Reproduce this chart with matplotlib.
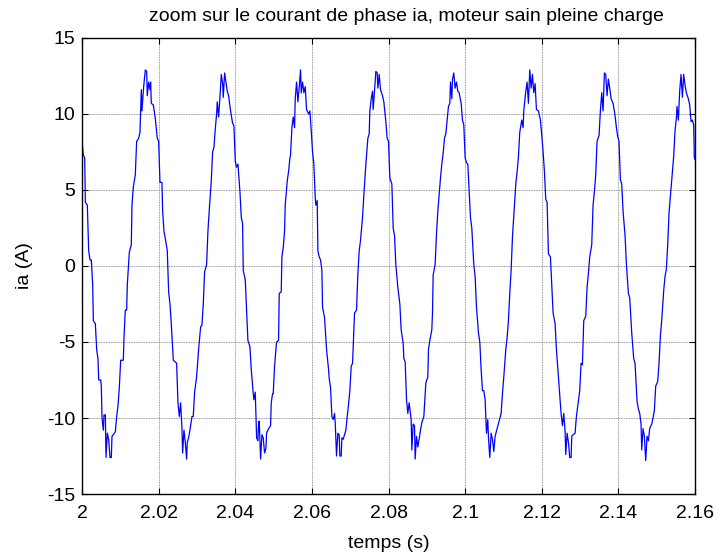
import matplotlib.pyplot as plt
import numpy as np
from matplotlib.ticker import FormatStrFormatter

# courant de phase ia, temps en ms a partir de t = 2 s
t_p1 = [0.00, 0.35, 0.70, 0.87, 1.39, 1.74, 2.09, 2.43, 2.78, 2.96,
        3.48, 3.83, 4.17, 4.35, 4.87, 5.04, 5.22, 5.57, 5.74, 6.09,
        6.26, 6.61, 6.96, 7.30, 7.65, 7.83, 8.17, 8.70, 9.04, 9.39,
        9.74, 10.09, 10.78, 10.96, 11.30, 11.65, 11.83, 12.35, 12.87, 13.04,
        13.39, 13.91, 14.26, 14.78, 15.13, 15.48, 15.65, 16.00, 16.17, 16.52,
        16.87, 17.04, 17.39, 17.74, 17.91, 18.09, 18.61, 19.13, 19.65, 20.00]
ia_p1 = [8.2, 7.3, 7.1, 4.2, 4.0, 1.0, 0.4, 0.4, -1.2, -3.6,
         -3.8, -5.5, -6.1, -7.5, -7.5, -7.9, -10.0, -10.8, -9.8, -9.8,
         -12.6, -11.0, -11.4, -12.6, -12.6, -11.2, -11.1, -10.9, -9.9, -9.2,
         -8.0, -6.2, -6.2, -4.7, -2.9, -2.9, -1.2, 0.9, 1.4, 4.0,
         5.2, 6.0, 8.2, 8.4, 8.8, 11.6, 10.2, 11.5, 12.0, 12.9,
         12.8, 11.2, 12.1, 11.6, 12.1, 10.7, 10.6, 9.7, 8.4, 8.2]

t_p2 = [20.35, 20.87, 21.04, 21.39, 21.74, 22.26, 22.61, 22.96, 23.30, 23.83,
        24.70, 25.04, 25.39, 25.74, 26.09, 26.26, 26.61, 26.96, 27.30, 27.48,
        27.83, 28.17, 28.70, 29.04, 29.39, 29.91, 30.43, 30.96, 31.30, 31.65,
        32.00, 32.52, 32.87, 33.22, 33.74, 34.09, 34.43, 34.78, 35.13, 35.30,
        35.65, 36.00, 36.35, 36.70, 36.87, 37.22, 37.57, 37.91, 38.26, 38.78,
        39.30, 39.65, 40.00]
ia_p2 = [5.5, 5.5, 3.6, 2.3, 1.8, 1.0, -1.7, -2.5, -3.8, -6.2,
         -6.4, -9.0, -9.9, -9.0, -10.7, -12.3, -10.8, -11.6, -12.7, -11.6,
         -11.3, -10.8, -9.9, -9.9, -8.3, -7.3, -5.5, -4.0, -3.9, -2.5,
         -0.4, 0.1, 2.3, 3.7, 5.6, 7.5, 7.8, 9.0, 10.0, 10.8,
         9.8, 11.1, 12.6, 12.0, 11.1, 12.7, 12.1, 11.5, 11.2, 10.2,
         9.4, 9.2, 6.9]

t_p3 = [40.35, 40.70, 41.22, 41.57, 41.91, 42.09, 42.61, 42.96, 43.30, 43.83,
        44.17, 44.70, 44.87, 45.22, 45.57, 45.91, 46.09, 46.26, 46.61, 46.96,
        47.30, 47.65, 48.00, 48.17, 48.70, 49.22, 49.39, 49.74, 49.91, 50.26,
        50.61, 50.78, 51.30, 51.48, 52.00, 52.17, 52.52, 52.87, 53.04, 53.57,
        53.91, 54.26, 54.43, 54.78, 55.13, 55.48, 55.65, 56.00, 56.35, 56.70,
        57.04, 57.22, 57.57, 57.91, 58.26, 58.61, 59.13, 59.48, 59.83]
ia_p3 = [6.5, 6.7, 4.9, 3.2, 2.8, -0.3, -0.9, -2.9, -4.9, -5.3,
         -6.8, -8.4, -8.8, -8.3, -11.3, -11.5, -10.3, -10.2, -12.7, -11.1,
         -11.3, -12.3, -12.0, -11.0, -10.7, -10.5, -9.0, -8.4, -8.4, -6.6,
         -5.5, -5.0, -4.9, -1.8, -1.7, 0.6, 1.2, 2.3, 4.0, 5.6,
         6.2, 7.1, 7.3, 9.1, 9.8, 9.1, 11.0, 12.1, 10.8, 11.8,
         12.9, 11.4, 12.1, 11.4, 11.8, 10.3, 10.0, 10.2, 8.9]

t_p4 = [60.17, 60.52, 60.87, 61.04, 61.39, 61.57, 61.91, 62.26, 62.61, 62.78,
        63.30, 63.83, 64.35, 64.52, 64.87, 65.22, 65.57, 65.91, 66.09, 66.43,
        66.78, 67.13, 67.30, 67.65, 67.83, 68.17, 68.52, 68.87, 69.22, 69.57,
        69.91, 70.26, 70.61, 71.13, 71.65, 72.00, 72.35, 72.70, 73.22, 73.57,
        74.09, 74.61, 74.96, 75.13, 75.48, 75.83, 76.00, 76.35, 76.70, 77.04,
        77.22, 77.57, 77.91, 78.43, 78.78, 79.30, 79.65, 80.00]
ia_p4 = [7.5, 6.7, 4.5, 4.0, 4.3, 1.0, 0.6, 0.4, -0.3, -2.7,
         -3.4, -5.5, -6.8, -7.4, -8.0, -9.9, -10.1, -9.7, -10.3, -12.5,
         -11.0, -11.1, -12.5, -12.5, -11.3, -11.4, -11.1, -10.8, -9.9, -9.1,
         -8.2, -6.6, -6.4, -3.1, -2.9, -0.5, 1.0, 1.7, 3.2, 4.7,
         6.7, 8.4, 8.7, 10.2, 11.0, 11.5, 10.3, 11.6, 12.8, 12.7,
         11.7, 12.6, 11.6, 11.2, 10.8, 9.5, 8.4, 8.2]

t_p5 = [80.35, 80.87, 81.22, 81.57, 81.91, 82.43, 82.96, 83.30, 83.83, 84.00,
        84.35, 84.70, 85.04, 85.39, 85.91, 86.09, 86.43, 86.78, 86.96, 87.30,
        87.65, 88.00, 88.35, 88.70, 89.22, 89.74, 90.26, 90.43, 90.78, 91.30,
        91.48, 91.65, 92.17, 92.52, 92.87, 93.22, 93.57, 93.91, 94.26, 94.61,
        94.96, 95.30, 95.65, 96.00, 96.17, 96.52, 96.70, 97.04, 97.39, 97.74,
        98.09, 98.43, 98.96, 99.30, 99.65, 100.00]
ia_p5 = [5.8, 5.4, 2.5, 2.0, 0.1, -1.4, -2.5, -4.2, -5.1, -6.1,
         -6.3, -8.8, -9.7, -9.0, -10.1, -12.1, -10.4, -10.5, -12.7, -11.2,
         -11.9, -11.4, -10.8, -10.3, -9.9, -7.7, -7.3, -5.5, -4.9, -4.2,
         -3.1, -0.6, 0.1, 2.1, 3.6, 4.7, 5.8, 6.7, 7.4, 8.4,
         8.7, 9.6, 10.5, 10.7, 12.1, 11.0, 12.3, 12.7, 11.7, 12.1,
         11.5, 11.4, 10.7, 9.6, 9.3, 7.1]

t_p6 = [100.35, 100.70, 101.04, 101.39, 101.74, 102.26, 102.61, 102.96, 103.48, 103.83,
        104.17, 104.52, 104.87, 105.22, 105.57, 105.91, 106.09, 106.43, 106.78, 107.13,
        107.48, 107.83, 108.35, 108.87, 109.39, 109.74, 110.09, 110.61, 110.96, 111.30,
        111.65, 112.00, 112.35, 112.87, 113.22, 113.57, 113.91, 114.26, 114.78, 115.13,
        115.30, 115.83, 116.17, 116.52, 116.87, 117.22, 117.57, 117.91, 118.26, 118.61,
        119.13, 119.65, 120.00]
ia_p6 = [6.8, 6.7, 4.9, 3.2, 2.5, 0.1, -0.7, -2.7, -4.4, -5.0,
         -6.8, -8.2, -8.2, -8.8, -11.0, -10.1, -11.3, -12.6, -11.0, -11.4,
         -12.2, -11.2, -10.7, -10.2, -9.7, -8.4, -7.3, -5.5, -4.7, -3.6,
         -1.8, -0.3, 1.9, 4.0, 5.4, 6.2, 7.2, 8.8, 9.6, 9.1,
         10.2, 11.5, 12.1, 10.7, 12.9, 11.7, 12.6, 11.4, 12.0, 10.3,
         10.2, 9.6, 8.6]

t_p7 = [120.35, 120.70, 121.04, 121.39, 121.74, 122.26, 122.61, 122.96, 123.48, 123.83,
        124.35, 125.04, 125.39, 125.74, 126.09, 126.26, 126.61, 126.96, 127.30, 127.65,
        127.83, 128.17, 128.70, 129.04, 129.39, 129.91, 130.26, 130.61, 130.96, 131.48,
        131.83, 132.17, 132.52, 133.04, 133.39, 133.74, 134.09, 134.43, 134.96, 135.30,
        135.65, 136.00, 136.35, 136.70, 137.04, 137.39, 137.74, 138.09, 138.61, 139.13,
        139.48, 139.83, 140.17]
ia_p7 = [7.5, 6.2, 4.4, 4.2, 0.8, 0.6, -1.2, -3.1, -3.8, -5.5,
         -7.3, -9.7, -10.5, -9.7, -10.9, -12.4, -11.0, -11.6, -12.6, -12.6,
         -11.2, -11.1, -11.0, -9.9, -9.2, -8.2, -6.4, -6.5, -3.6, -3.3,
         -1.4, -0.5, 0.6, 1.4, 4.0, 4.9, 6.0, 8.2, 8.6, 10.2,
         11.4, 10.2, 12.7, 12.6, 11.2, 12.3, 11.7, 11.0, 10.7, 9.9,
         9.1, 8.5, 8.2]

t_p8 = [140.52, 140.87, 141.22, 141.74, 142.09, 142.61, 142.96, 143.48, 144.00, 144.35,
        144.87, 145.22, 145.57, 145.91, 146.09, 146.43, 146.78, 147.13, 147.48, 147.83,
        148.17, 148.70, 149.04, 149.39, 149.74, 150.26, 150.61, 150.96, 151.30, 151.83,
        152.17, 152.52, 152.87, 153.22, 153.74, 154.09, 154.43, 154.78, 155.13, 155.30,
        155.65, 156.00, 156.35, 156.70, 157.04, 157.39, 157.74, 158.26, 158.61, 158.96,
        159.30, 159.65, 159.83, 160.00]
ia_p8 = [5.7, 5.4, 3.6, 2.0, 0.1, -1.8, -2.1, -4.4, -6.1, -6.4,
         -8.9, -9.4, -9.7, -10.4, -12.1, -10.7, -11.2, -12.8, -11.2, -11.5,
         -10.7, -10.4, -10.0, -9.5, -7.9, -7.6, -6.4, -4.6, -3.6, -1.6,
         -0.7, -0.2, 1.4, 3.5, 5.1, 6.2, 7.2, 8.9, 9.7, 10.5,
         9.6, 11.5, 12.6, 11.1, 12.6, 11.9, 11.4, 11.0, 10.6, 9.5,
         9.6, 9.3, 7.1, 7.0]

xticks = [2, 2.02, 2.04, 2.06, 2.08, 2.1, 2.12, 2.14, 2.16]
yticks = [-15, -10, -5, 0, 5, 10, 15]

t_ms = np.concatenate([t_p1, t_p2, t_p3, t_p4, t_p5, t_p6, t_p7, t_p8])
ia = np.concatenate([ia_p1, ia_p2, ia_p3, ia_p4, ia_p5, ia_p6, ia_p7, ia_p8])
t = 2 + t_ms / 1000.0

plt.rcParams['font.family'] = ['Liberation Sans', 'DejaVu Sans']

fig = plt.figure(figsize=(7.2, 5.57), dpi=100)
ax = fig.add_axes([0.1139, 0.1131, 0.8514, 0.8187])

ax.plot(t, ia, color='#0000ff', linewidth=0.9)

ax.set_xlim(2, 2.16)
ax.set_ylim(-15, 15)
ax.set_xticks(xticks)
ax.set_yticks(yticks)
ax.xaxis.set_major_formatter(FormatStrFormatter('%g'))
ax.yaxis.set_major_formatter(FormatStrFormatter('%g'))
ax.tick_params(direction='in', top=True, right=True, length=4, labelsize=14, pad=5)
ax.tick_params(axis='x', pad=8)
ax.grid(True, linestyle=(0, (1, 1)), color='0.45', linewidth=0.6)
for s in ax.spines.values():
    s.set_linewidth(1.0)

ax.set_title('zoom sur le courant de phase ia, moteur sain pleine charge',
             fontsize=14, pad=12, x=0.53)
ax.set_xlabel('temps (s)', fontsize=14, labelpad=9)
ax.set_ylabel('ia (A)', fontsize=14, labelpad=10)

fig.savefig('out.png', dpi=100)
